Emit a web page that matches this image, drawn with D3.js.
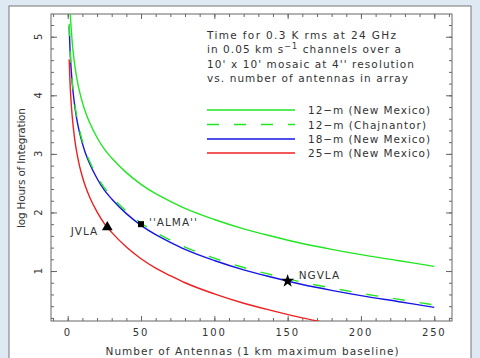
<!DOCTYPE html>
<html><head><meta charset="utf-8">
<script src="https://cdn.jsdelivr.net/npm/d3@7"></script>
<style>body{margin:0;background:#dfe9f3}svg{display:block}text{font-family:"DejaVu Sans",sans-serif;fill:#333}</style>
</head><body><svg id="c" width="480" height="358"></svg>
<script>
const antennas = [1,1.5,2,3,4,5,6,8,10,12,15,20,25,30,40,50,60,70,80,100,120,140,160,180,200,225,250];
const green12NM = [5.88,5.53,5.28,4.93,4.68,4.48,4.32,4.07,3.88,3.72,3.53,3.28,3.08,2.93,2.68,2.48,2.32,2.19,2.07,1.88,1.72,1.59,1.47,1.37,1.28,1.18,1.08];
const green12Ch = [5.22,4.87,4.62,4.27,4.02,3.82,3.66,3.41,3.22,3.06,2.87,2.62,2.42,2.27,2.02,1.82,1.66,1.53,1.41,1.22,1.06,0.93,0.81,0.71,0.62,0.52,0.42];
const blue18NM = [5.18,4.83,4.58,4.23,3.98,3.78,3.62,3.37,3.18,3.02,2.83,2.58,2.38,2.23,1.98,1.78,1.62,1.49,1.37,1.18,1.02,0.89,0.77,0.67,0.58,0.48,0.38];
const red25NM = [4.61,4.26,4.01,3.66,3.41,3.21,3.05,2.80,2.61,2.45,2.26,2.01,1.81,1.66,1.41,1.21,1.05,0.92,0.80,0.61,0.45,0.32,0.20,0.10];
const seriesNames = ["12\u2212m (New Mexico)","12\u2212m (Chajnantor)","18\u2212m (New Mexico)","25\u2212m (New Mexico)"];
const seriesColors = ["#22e622","#22e622","#1515e6","#ee2020"];
const seriesDash = [null,"12,15",null,null];
const markers = [{name:"JVLA",n:27,v:1.75,shape:"triangle"},{name:"''ALMA''",n:50,v:1.80,shape:"square"},{name:"NGVLA",n:150,v:0.83,shape:"star"}];
const xTicks = [0,50,100,150,200,250];
const yTicks = [1,2,3,4,5];
const titleLines = ["Time for 0.3 K rms at 24 GHz","in 0.05 km s","10' x 10' mosaic at 4'' resolution","vs. number of antennas in array"];

const svg = d3.select("#c");
svg.append("rect").attr("width",480).attr("height",358).attr("fill","#dfe9f3");
svg.append("rect").attr("x",9).attr("y",6).attr("width",462).attr("height",370).attr("fill","#fff").attr("stroke","#777");

const L=51,R=452,T=14,B=321;
const x = d3.scaleLinear().domain([-11.4,262.1]).range([L,R]);
const y = d3.scaleLinear().domain([0.147,5.388]).range([B,T]);

svg.append("defs").append("clipPath").attr("id","clip").append("rect").attr("x",L).attr("y",T).attr("width",R-L).attr("height",B-T);

const axisCol="#666";
function styleAxis(g){g.select(".domain").remove();g.selectAll("line").attr("stroke",axisCol);g.selectAll("text").remove();}
const xMinor = d3.range(-10,261,10);
const yMinor = d3.range(2,54,2).map(d=>d/10);
svg.append("g").attr("transform",`translate(0,${B})`).call(d3.axisBottom(x).tickValues(xTicks).tickSize(-5)).call(styleAxis);
svg.append("g").attr("transform",`translate(0,${B})`).call(d3.axisBottom(x).tickValues(xMinor).tickSize(-3)).call(styleAxis);
svg.append("g").attr("transform",`translate(0,${T})`).call(d3.axisTop(x).tickValues(xTicks).tickSize(-5)).call(styleAxis);
svg.append("g").attr("transform",`translate(0,${T})`).call(d3.axisTop(x).tickValues(xMinor).tickSize(-3)).call(styleAxis);
svg.append("g").attr("transform",`translate(${L},0)`).call(d3.axisLeft(y).tickValues(yTicks).tickSize(-6)).call(styleAxis);
svg.append("g").attr("transform",`translate(${L},0)`).call(d3.axisLeft(y).tickValues(yMinor).tickSize(-3)).call(styleAxis);
svg.append("g").attr("transform",`translate(${R},0)`).call(d3.axisRight(y).tickValues(yTicks).tickSize(-6)).call(styleAxis);
svg.append("g").attr("transform",`translate(${R},0)`).call(d3.axisRight(y).tickValues(yMinor).tickSize(-3)).call(styleAxis);
svg.append("rect").attr("x",L).attr("y",T).attr("width",R-L).attr("height",B-T).attr("fill","none").attr("stroke",axisCol);

svg.append("g").selectAll("text").data(xTicks).join("text")
  .attr("x",d=>x(d)).attr("y",336).attr("text-anchor","middle").attr("font-size",10).attr("letter-spacing",1.8).text(d=>d);
svg.append("g").selectAll("text").data(yTicks).join("text")
  .attr("transform",d=>`translate(42,${y(d)}) rotate(-90)`).attr("text-anchor","middle").attr("font-size",10).text(d=>d);

svg.append("text").attr("x",252).attr("y",355).attr("text-anchor","middle").attr("font-size",10.5)
  .attr("textLength",293).attr("lengthAdjust","spacing").text("Number of Antennas (1 km maximum baseline)");
svg.append("text").attr("transform","translate(25,168) rotate(-90)").attr("text-anchor","middle").attr("font-size",10.5)
  .attr("textLength",120).attr("lengthAdjust","spacing").text("log Hours of Integration");

const plot = svg.append("g").attr("clip-path","url(#clip)");
const allSeries=[green12NM,green12Ch,blue18NM,red25NM];
const line = d3.line().x(d=>x(d[0])).y(d=>y(d[1])).curve(d3.curveMonotoneX);
const drawOrder=[0,2,1,3];
drawOrder.forEach(i=>{
  const pts = allSeries[i].map((v,k)=>[antennas[k],v]);
  plot.append("path").attr("d",line(pts)).attr("fill","none").attr("stroke",seriesColors[i]).attr("stroke-width",1.4)
    .attr("stroke-dasharray",seriesDash[i]);
});

markers.forEach(m=>{
  const cx=x(m.n), cy=y(m.v);
  let sym = m.shape==="triangle"?d3.symbolTriangle:m.shape==="square"?d3.symbolSquare:d3.symbolStar;
  let size = m.shape==="triangle"?50:m.shape==="square"?36:55;
  svg.append("path").attr("d",d3.symbol().type(sym).size(size)()).attr("transform",`translate(${cx},${cy})`).attr("fill","#000");
});
svg.append("text").attr("x",x(markers[0].n)-9).attr("y",y(markers[0].v)+8).attr("text-anchor","end").attr("font-size",10.5).attr("letter-spacing",1).text(markers[0].name);
svg.append("text").attr("x",x(markers[1].n)+8).attr("y",y(markers[1].v)+2).attr("font-size",10.5).attr("letter-spacing",1).text(markers[1].name);
svg.append("text").attr("x",x(markers[2].n)+11).attr("y",y(markers[2].v)-2).attr("font-size",10.5).attr("letter-spacing",1).text(markers[2].name);

const tl=[189,198,207,201];
titleLines.forEach((t,i)=>{
  const tx=svg.append("text").attr("x",207).attr("y",39+i*14.3).attr("font-size",10.5);
  if(i===1){
    tx.attr("letter-spacing",1.05);
    tx.append("tspan").text(t);
    tx.append("tspan").attr("dy",-4).attr("font-size",8).text("\u22121");
    tx.append("tspan").attr("dy",4).text(" channels over a");
  } else {
    tx.attr("textLength",tl[i]).attr("lengthAdjust","spacing").text(t);
  }
});

const ly=[110,124.5,139,153];
const lw=[122,118,122,122];
seriesNames.forEach((s,i)=>{
  svg.append("line").attr("x1",207).attr("x2",295).attr("y1",ly[i]).attr("y2",ly[i]).attr("stroke",seriesColors[i]).attr("stroke-width",1.4).attr("stroke-dasharray",seriesDash[i]);
  svg.append("text").attr("x",308).attr("y",ly[i]+4).attr("font-size",10.5).attr("textLength",lw[i]).attr("lengthAdjust","spacing").text(s);
});
</script></body></html>
